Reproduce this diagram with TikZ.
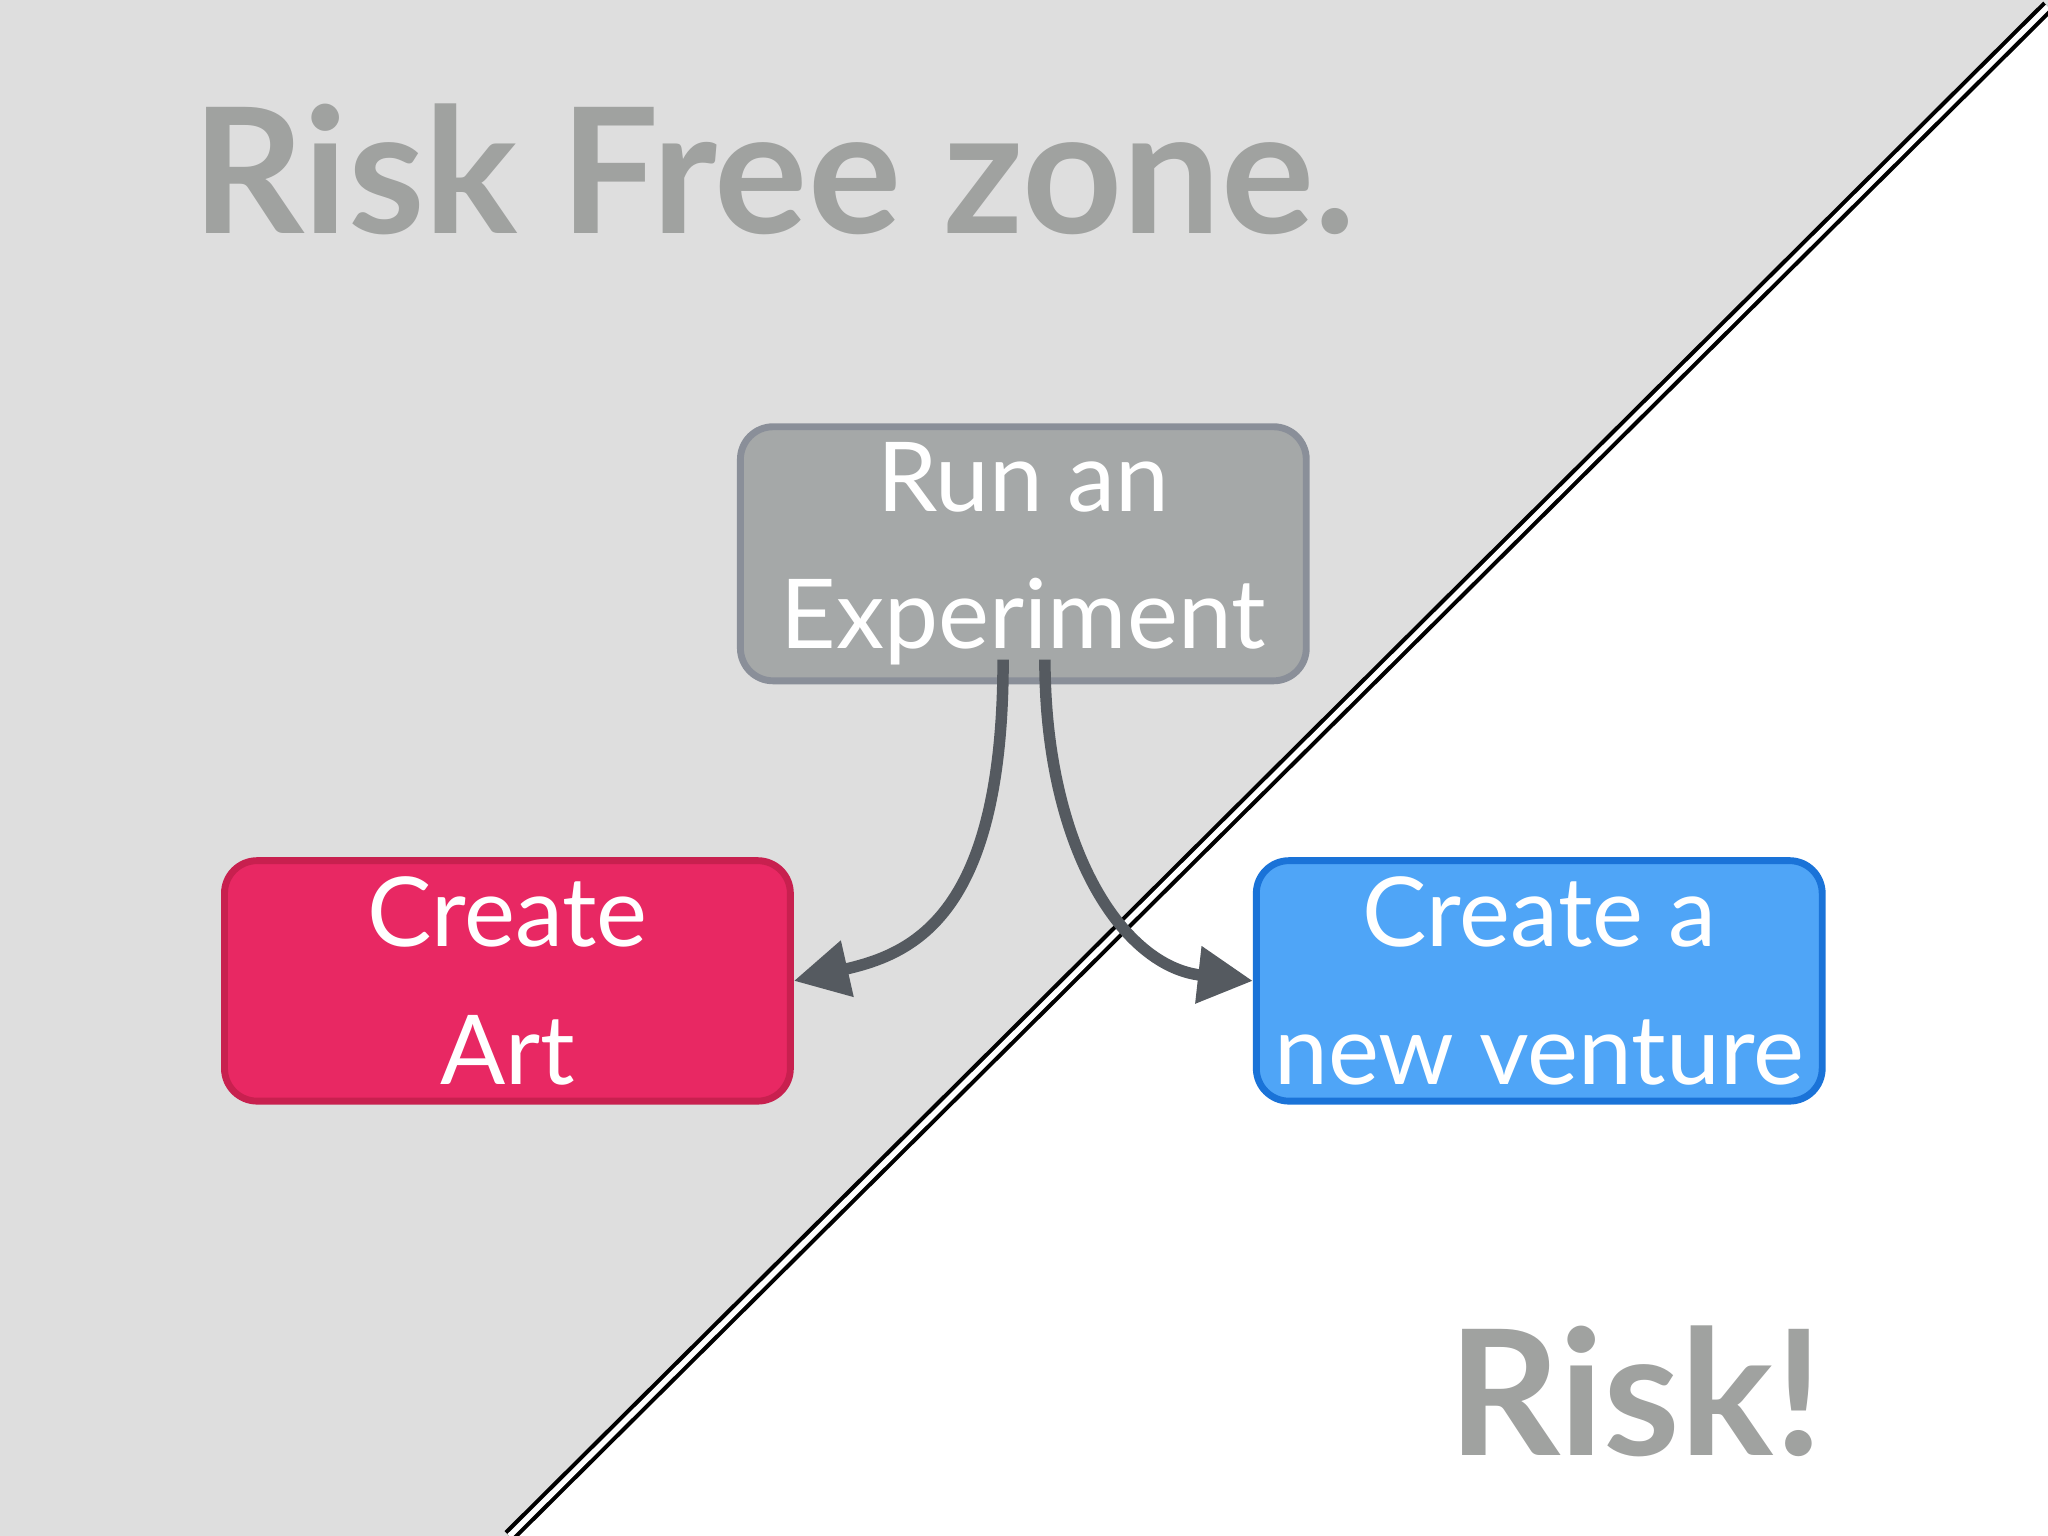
\documentclass[tikz,border=0pt]{standalone}
\usepackage{fontspec}
\setmainfont{Lato}
\usetikzlibrary{arrows.meta}
\definecolor{zonegray}{HTML}{DEDEDE}
\definecolor{titlegray}{HTML}{A0A2A0}
\definecolor{expfill}{HTML}{A5A8A8}
\definecolor{expdraw}{HTML}{8A8F99}
\definecolor{artfill}{HTML}{E82863}
\definecolor{artdraw}{HTML}{C8204F}
\definecolor{venfill}{HTML}{4FA5F7}
\definecolor{vendraw}{HTML}{1A73D8}
\definecolor{arrowgray}{HTML}{555A60}
\tikzset{
  box/.style={rounded corners=0.25cm, line width=1.5pt, minimum width=4.33cm, minimum height=1.84cm, text=white, align=center, font=\fontsize{21}{30}\selectfont},
  conn/.style={arrowgray, line width=2.5pt, -{Triangle[length=0.42cm,width=0.42cm]}}
}
\begin{document}
\begin{tikzpicture}[x=0.01cm,y=-0.01cm]
\useasboundingbox (0,0) rectangle (1568,1176);
\fill[zonegray] (0,0) -- (1568,0) -- (1568,5) -- (390,1176) -- (0,1176) -- cycle;
\draw[black, double=white, double distance=1.2pt, line width=0.9pt] (390,1176) -- (1568,5);
\node[anchor=west, text=titlegray, font=\fontsize{38}{40}\bfseries\selectfont] (title) at (135,130) {Risk Free zone.};
\node[anchor=east, text=titlegray, font=\fontsize{38}{40}\bfseries\selectfont] (risk) at (1408,1065) {Risk!};
\node[box, fill=expfill, draw=expdraw] (exp) at (783.5,424) {Run an\\Experiment};
\node[box, fill=artfill, draw=artdraw] (art) at (388.5,751) {Create\\Art};
\node[box, fill=venfill, draw=vendraw] (ven) at (1178.5,751) {Create a\\new venture};
\coordinate (s1) at (768,505);
\coordinate (s2) at (800,505);
\draw[conn] (s1) .. controls (768,700) and (700,730) .. (art.east);
\draw[conn] (s2) .. controls (800,650) and (860,740) .. (ven.west);
\end{tikzpicture}
\end{document}
